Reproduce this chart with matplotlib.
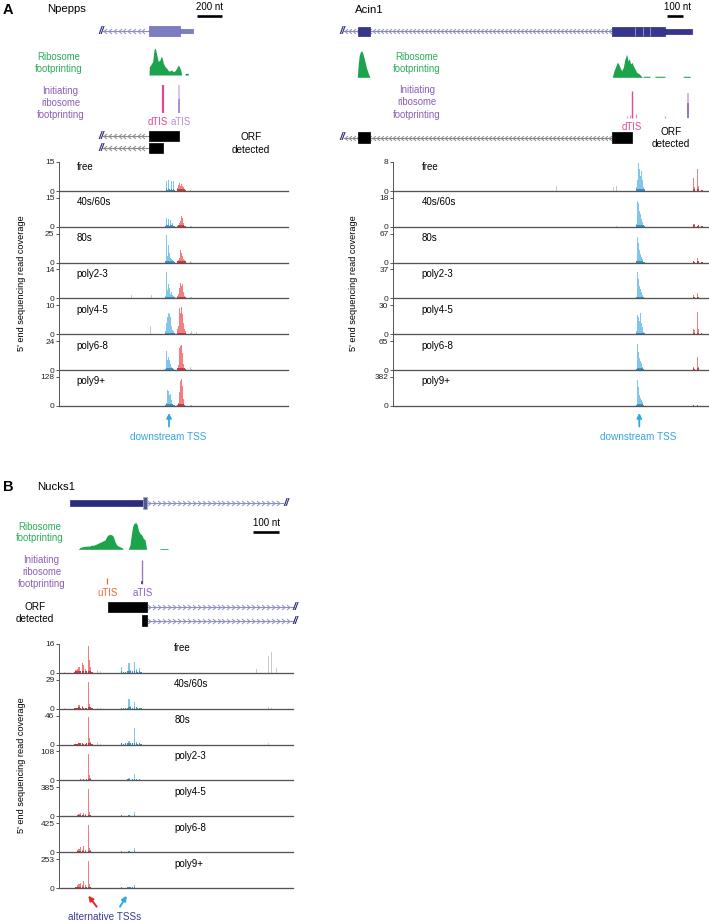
import numpy as np
import matplotlib
matplotlib.use("Agg")
import matplotlib.pyplot as plt
from matplotlib.path import Path

plt.rcParams["font.family"] = ["Liberation Sans", "DejaVu Sans"]

W, H = 709, 924
fig = plt.figure(figsize=(W / 100, H / 100), dpi=100)

track_names = ["free", "40s/60s", "80s", "poly2-3", "poly4-5", "poly6-8", "poly9+"]

# ---------------- Npepps (panel A, left) ----------------
npepps_ymax = [15, 15, 25, 14, 10, 24, 128]
npepps_blue_pos = [850, 858, 866, 874, 882, 890, 898, 906, 914, 922, 930]
npepps_blue = [
    [0, 5, 0.5, 5.5, 1, 0.5, 5, 0.5, 5, 0.5, 0],
    [0.5, 4.8, 1, 4, 0.5, 3.5, 1, 2, 0.5, 0.3, 0],
    [1, 23.5, 6, 15, 8, 4, 3, 2, 1, 0.5, 0],
    [1, 13, 4, 7, 5, 2, 3, 1.5, 1, 0.5, 0],
    [1, 4, 6, 7.2, 7, 6, 3, 1.5, 1, 0.5, 0],
    [1, 16, 8, 11, 8, 5, 3, 2, 1, 0.5, 0],
    [5, 15, 70, 65, 50, 55, 25, 10, 5, 3, 1],
]
npepps_red_pos = [944, 952, 960, 968, 976, 984, 992, 1000, 1008]
npepps_red = [
    [1.5, 3, 4, 2.5, 3.5, 2.5, 2, 1, 0.5],
    [0.5, 1, 2, 3, 5.7, 4.5, 2, 0.5, 0.3],
    [1, 2, 4, 11, 8, 6, 3, 2, 1],
    [1, 2, 5, 7.3, 6, 7, 3, 1, 0.5],
    [2, 3, 9, 7.5, 9.5, 7, 4, 2, 1],
    [2, 4, 18, 20, 21, 14, 5, 2, 1],
    [5, 15, 60, 110, 120, 90, 30, 5, 2],
]
npepps_gray_pos = [579, 731, 739, 1046, 1059, 1099]
npepps_gray = [
    [0, 0, 0, 0.5, 0, 0],
    [0, 0, 0, 0.5, 0.5, 0],
    [0, 0, 0, 1, 0.5, 0],
    [1.5, 0, 1.8, 0.8, 0.5, 0],
    [0, 3, 0, 0.5, 1, 0.7],
    [0, 0, 0, 3, 1, 0],
    [0, 0, 0, 5, 3, 0],
]
npepps_thick = [(718, 966)]
npepps_thin = [(966, 1070)]
npepps_intron = (350, 718)
npepps_break = 332
npepps_ribo_pos = [718, 720, 731, 747, 758, 768, 779, 792, 806, 816, 824, 832, 846, 859,
                   872, 886, 899, 912, 926, 939, 952, 960, 971, 979, 1005, 1006, 1032, 1033]
npepps_ribo = [0, 31, 37, 50, 94, 100, 75, 50, 56, 69, 62, 44, 31, 25,
               16, 15, 19, 12, 16, 25, 37, 31, 19, 0, 0, 6, 6, 0]
npepps_init_pos = [830, 958, 958]
npepps_init = [100, 100, 50]
npepps_orfs = [[(718, 958)], [(718, 830)]]
npepps_scale_nt = 200

# ---------------- Acin1 (panel A, right) ----------------
acin1_ymax = [8, 18, 67, 37, 30, 65, 382]
acin1_blue_pos = [1458, 1463, 1468, 1473, 1478, 1483, 1488, 1493, 1498, 1503, 1508]
acin1_blue = [
    [1, 3, 5, 7.8, 6, 4, 5.5, 3, 1.5, 1, 0.5],
    [2, 16, 16.5, 15, 10, 8, 5, 3, 2, 1, 0.5],
    [3, 60, 62, 45, 30, 20, 12, 8, 4, 2, 1],
    [2, 34, 32, 25, 16, 12, 8, 5, 3, 2, 1],
    [3, 20, 27, 18, 14, 22, 12, 8, 4, 2, 1],
    [3, 58, 52, 40, 28, 20, 15, 8, 4, 2, 1],
    [10, 340, 320, 250, 150, 110, 80, 50, 30, 15, 5],
]
acin1_red_pos = [1792, 1800, 1808, 1816, 1824, 1832, 1840, 1848, 1856, 1864]
acin1_red = [
    [4, 3.5, 1, 3, 6, 1.5, 0.5, 0.3, 0.3, 1],
    [1, 2, 1.5, 1, 0.5, 1, 0.5, 0.3, 0.5, 0.3],
    [3, 4, 2, 10, 11, 3, 1, 0.5, 0.5, 0.3],
    [3, 4, 2, 5, 7, 2, 1, 0.5, 0.3, 0.3],
    [3, 5, 4, 14, 23, 6, 2, 1, 0.5, 1],
    [4, 6, 3, 28, 30, 8, 3, 1, 0.5, 0.3],
    [5, 8, 5, 10, 8, 5, 2, 1, 0.5, 0.3],
]
acin1_gray_pos = [910, 940, 980, 1320, 1340, 1552, 1636, 1660, 1690]
acin1_gray = [
    [2, 1.5, 1.5, 1, 1.5, 0, 1.5, 1.5, 3.5],
    [0, 0, 0, 0, 0.5, 0.5, 2, 0, 0.5],
    [0, 0, 0, 0, 0, 3, 0, 0, 0],
    [0, 0, 0, 0, 0, 0, 0, 0, 0.5],
    [0, 0, 0, 0, 0, 0, 0, 0, 0],
    [0, 0, 0, 0, 0, 0, 0, 0, 1.5],
    [0, 0, 0, 0, 0, 0, 0, 0, 0],
]
acin1_thick = [(-212, -140), (1312, 1630)]
acin1_thin = [(1630, 1792)]
acin1_intron = (-296, 1312)
acin1_break = -306
acin1_ribo_pos = [-216, -210, -204, -196, -188, -180, -170, -160, -150, -140,
                  1314, 1324, 1336, 1344, 1352, 1360, 1370, 1380, 1390, 1400, 1408, 1416,
                  1424, 1432, 1440, 1450, 1460, 1476, 1490, 1494,
                  1499, 1500, 1540, 1541, 1569, 1570, 1630, 1631, 1739, 1740, 1780, 1781]
acin1_ribo = [0, 53, 85, 98, 100, 85, 60, 34, 15, 0,
              0, 25, 44, 57, 51, 38, 25, 38, 70, 88, 63, 70,
              51, 57, 44, 32, 19, 13, 3, 0,
              0, 4, 4, 0, 0, 4, 4, 0, 0, 4, 4, 0]
acin1_init_pos = [1404, 1422, 1432, 1458, 1630, 1768, 1768]
acin1_init = [8, 12, 100, 15, 8, 92, 55]
acin1_orfs = [[(-212, -140), (1312, 1432)]]
acin1_scale_nt = 100

# ---------------- Nucks1 (panel B) ----------------
nucks1_ymax = [16, 29, 46, 108, 385, 425, 253]
nucks1_red_pos = [58, 64, 70, 76, 82, 88, 94, 100, 106, 112, 116, 120, 126]
nucks1_red = [
    [0.5, 1.5, 2, 3, 1, 5.5, 4, 2, 1, 15, 7, 3, 0.5],
    [0.3, 0.5, 1, 3.5, 1, 3, 1, 0.5, 1, 27, 5, 2, 0.5],
    [0.3, 0.5, 1, 2, 3, 2, 1.5, 1, 2, 44, 10, 4, 1],
    [0.5, 1, 2, 3, 5, 3, 4, 2, 5, 100, 20, 8, 2],
    [1, 5, 20, 30, 40, 25, 50, 30, 10, 360, 60, 20, 5],
    [2, 10, 40, 50, 80, 40, 90, 40, 10, 400, 70, 30, 5],
    [2, 8, 25, 35, 45, 30, 60, 30, 8, 240, 40, 15, 5],
]
nucks1_blue_pos = [240, 248, 256, 262, 268, 274, 282, 290, 296, 302, 308, 314]
nucks1_blue = [
    [3, 0.5, 0.5, 1, 5.5, 1.5, 1, 6, 2, 0.5, 2.5, 0.5],
    [1, 0.5, 0.5, 1, 10, 3, 1, 7, 2, 0.5, 1, 0.3],
    [2, 1, 2, 3, 5, 2, 3, 27, 4, 1, 3, 0.5],
    [3, 2, 3, 4, 10, 3, 4, 25, 6, 3, 5, 1],
    [15, 2, 3, 5, 25, 5, 3, 55, 5, 2, 2, 1],
    [15, 2, 3, 5, 20, 5, 3, 70, 5, 2, 2, 1],
    [12, 3, 5, 8, 15, 12, 10, 30, 5, 2, 2, 1],
]
nucks1_gray_pos = [20, 146, 160, 759, 804, 817, 836]
nucks1_gray = [
    [0.3, 1.5, 0.8, 2, 9, 11.5, 2.4],
    [0.5, 0.8, 0.5, 0, 2, 0.5, 0],
    [0, 4, 0.5, 0, 2, 0, 0],
    [0, 2, 0.5, 0, 0, 0, 0],
    [0, 5, 0, 0, 0, 0, 0],
    [0, 5, 0, 0, 0, 0, 0],
    [0, 3, 0, 0, 0, 0, 0],
]
nucks1_thin = [(41, 322)]
nucks1_thick = [(322, 337)]
nucks1_intron = (337, 860)
nucks1_break = 871
nucks1_ribo_pos = [73, 80, 92, 105, 118, 125, 131, 144, 154, 163, 176, 182, 188, 195, 202,
                   208, 214, 221, 231, 240, 246,
                   265, 272, 276, 282, 287, 295, 300, 304, 310, 317, 323, 330, 333, 336,
                   387, 388, 418, 419]
nucks1_ribo = [0, 7, 10, 12, 12, 16, 15, 20, 25, 29, 35, 48, 54, 56, 54,
               48, 29, 16, 10, 7, 0,
               0, 16, 48, 85, 97, 100, 91, 72, 60, 54, 41, 35, 16, 0,
               0, 3, 3, 0]
nucks1_init_pos = [183, 318, 318]
nucks1_init = [25, 100, 12]
nucks1_orfs = [[(187, 337)], [(318, 337)]]
nucks1_orf_end = 900
nucks1_scale_nt = 100

# ---------------- colours ----------------
BLUE = "#3aa8e0"
BLUE_DARK = "#1b7fb8"
RED = "#ea3a40"
RED_DARK = "#b81c24"
GRAY = "#c9c9c9"
GREEN = "#1ca44d"
GREEN_TXT = "#2aac5a"
PURPLE_TXT = "#8c5db8"
MAGENTA = "#e5459b"
NAVY = "#2c2c7c"
TSS_BLUE = "#35a7df"
ORANGE = "#f0673a"
AXIS = "#555555"


def rect(x0, y0, x1, y1):
    return [x0 / W, 1 - y1 / H, (x1 - x0) / W, (y1 - y0) / H]


def chevron(direction):
    if direction < 0:
        verts = [(0.6, 1), (-0.6, 0), (0.6, -1)]
    else:
        verts = [(-0.6, 1), (0.6, 0), (-0.6, -1)]
    return Path(verts, [Path.MOVETO, Path.LINETO, Path.LINETO])


def annot_axes(x0, y0, x1, y1, px0, k):
    ax = fig.add_axes(rect(x0, y0, x1, y1))
    ax.set_xlim((x0 - px0) * k, (x1 - px0) * k)
    ax.set_ylim(y1, y0)
    ax.axis("off")
    return ax


def intron(ax, a, b, y, step, direction, color, ms=3.6):
    ax.plot([a, b], [y, y], color=color, lw=0.8, zorder=1)
    xs = np.arange(a + step * 0.5, b - step * 0.3, step)
    ax.plot(xs, np.full(len(xs), y), ls="none", marker=chevron(direction), ms=ms,
            mfc="none", mec=color, mew=0.7, zorder=1)


def boxes(ax, spans, y, h, color, ec=None):
    ax.broken_barh([(s, e - s) for s, e in spans], (y - h / 2, h),
                   facecolors=color, edgecolors=ec if ec else color, linewidth=0.5, zorder=2)


def brk(ax, x, y):
    ax.text(x, y, "//", ha="center", va="center", fontsize=7.5, fontweight="bold",
            fontstyle="italic", color=NAVY, zorder=3)


def ribo(ax, pos, vals, base, scale):
    v = np.array(vals, dtype=float)
    ax.fill_between(pos, base, base - v / 100 * scale, color=GREEN, lw=0)


def init_sites(ax, pos, vals, colors, widths, base, scale):
    for p, v, c, w in zip(pos, vals, colors, widths):
        ax.vlines(p, base, base - v / 100 * scale, colors=c, lw=w)


def draw_tracks(px0, px1, base0, step, k, ymax, bpos, bh, rpos, rh, gpos, gh, bw):
    L = (px1 - px0) * k
    bases = []
    for i in range(len(track_names)):
        base = base0 + i * step
        bases.append(base)
        ax = fig.add_axes(rect(px0, base - step, px1, base))
        ax.patch.set_visible(False)
        top = ymax[i] * step / 29.0
        ax.set_xlim(0, L)
        ax.set_ylim(0, top)
        ax.bar(gpos, gh[i], width=bw, color=GRAY, lw=0)
        ax.bar(bpos, bh[i], width=bw, color=BLUE, alpha=0.65, lw=0)
        ax.bar(rpos, rh[i], width=bw, color=RED, alpha=0.65, lw=0)
        ax.bar(bpos, np.minimum(bh[i], ymax[i] * 0.06), width=bw, color=BLUE_DARK, alpha=0.7, lw=0)
        ax.bar(rpos, np.minimum(rh[i], ymax[i] * 0.06), width=bw, color=RED_DARK, alpha=0.7, lw=0)
        ax.set_xticks([])
        ax.set_yticks([0, ymax[i]])
        ax.set_yticklabels(["0", str(ymax[i])])
        for s in ["top", "right"]:
            ax.spines[s].set_visible(False)
        ax.spines["bottom"].set_color(AXIS)
        ax.spines["bottom"].set_linewidth(0.95)
        ax.spines["left"].set_color(AXIS)
        ax.spines["left"].set_linewidth(0.7)
        if i == 0:
            ax.spines["left"].set_bounds(0, ymax[i])
        ax.tick_params(axis="y", length=2.5, width=0.7, pad=1, labelsize=6,
                       colors=AXIS, labelcolor="#222222")
    return bases


# ================= Panel A left: Npepps =================
kA = 8.0
pxA = 59.3
ax = annot_axes(0, 0, 340, 160, pxA, kA)
intron(ax, npepps_intron[0], npepps_intron[1], 31, 38, -1, "#8e8ec6")
brk(ax, npepps_break, 31)
boxes(ax, npepps_thick, 31, 10, "#7d7dc2", "#6a6ab4")
boxes(ax, npepps_thin, 31, 4.5, "#7d7dc2", "#6a6ab4")
ax.plot([1102, 1102 + npepps_scale_nt], [16.3, 16.3], color="black", lw=1.9, solid_capstyle="butt")
ribo(ax, npepps_ribo_pos, npepps_ribo, 75, 27)
init_sites(ax, npepps_init_pos, npepps_init, [MAGENTA, "#cfb3e2", "#a57ccb"], [1.6, 1.1, 1.1], 113, 28)
for orf, y in zip(npepps_orfs, [136, 148]):
    intron(ax, npepps_intron[0], npepps_intron[1], y, 38, -1, "#8a8a8a")
    brk(ax, npepps_break, y)
    boxes(ax, orf, y, 10.5, "black")

basesA = draw_tracks(59.3, 288.3, 191, 35.83, kA, npepps_ymax, npepps_blue_pos, npepps_blue,
                     npepps_red_pos, npepps_red, npepps_gray_pos, npepps_gray, 7.5)

# ================= Panel A right: Acin1 =================
kR = 6.0
pxR = 393.3
ax = annot_axes(340, 0, 709, 160, pxR, kR)
intron(ax, acin1_intron[0], acin1_intron[1], 31.3, 24, -1, "#8a8ac2", ms=3.4)
brk(ax, acin1_break, 31.3)
boxes(ax, acin1_thick, 31.3, 9.5, "#36368c", "#2a2a7a")
boxes(ax, acin1_thin, 31.3, 4.8, "#36368c", "#2a2a7a")
ax.vlines([1450, 1500, 1542], 31.3 - 4.5, 31.3 + 4.5, colors="white", lw=0.5, alpha=0.6, zorder=3)
ax.plot([1640, 1640 + acin1_scale_nt], [15.7, 15.7], color="black", lw=1.9, solid_capstyle="butt")
ribo(ax, acin1_ribo_pos, acin1_ribo, 77.3, 26.3)
init_sites(ax, acin1_init_pos, acin1_init,
           ["#ee8cc0", "#ee8cc0", MAGENTA, "#ee8cc0", "#aaaaaa", "#c9b0dd", "#8e66b8"],
           [0.8, 0.8, 1.0, 0.8, 0.8, 1.2, 1.2], 118, 27)
for orf, y in zip(acin1_orfs, [137.5]):
    intron(ax, acin1_intron[0], acin1_intron[1], y, 24, -1, "#8a8a8a", ms=3.4)
    brk(ax, acin1_break, y)
    boxes(ax, orf, y, 11.5, "black")

basesR = draw_tracks(393.3, 708.3, 191, 35.83, kR, acin1_ymax, acin1_blue_pos, acin1_blue,
                     acin1_red_pos, acin1_red, acin1_gray_pos, acin1_gray, 5.5)

# ================= Panel B: Nucks1 =================
kB = 3.846
pxB = 59.3
ax = annot_axes(0, 480, 340, 635, pxB, kB)
intron(ax, nucks1_intron[0], nucks1_intron[1], 502.7, 19, 1, "#8e8ec6")
brk(ax, nucks1_break, 502.7)
boxes(ax, nucks1_thin, 502.7, 6, "#2c2c7c")
boxes(ax, nucks1_thick, 502.7, 12, "#4d5c8c", "#9aa6c8")
ax.plot([746, 746 + nucks1_scale_nt], [531.7, 531.7], color="black", lw=1.9, solid_capstyle="butt")
ribo(ax, nucks1_ribo_pos, nucks1_ribo, 549.3, 26.7)
init_sites(ax, nucks1_init_pos, nucks1_init, [ORANGE, "#9a7cc4", "#5e3f96"], [0.9, 1.0, 1.3], 584, 24)
for orf, y in zip(nucks1_orfs, [607, 620.5]):
    intron(ax, orf[-1][1], nucks1_orf_end, y, 19, 1, "#8e8ec6")
    brk(ax, nucks1_orf_end + 9, y)
    boxes(ax, orf, y, 10.5, "black")

basesB = draw_tracks(59.3, 293.3, 672.7, 35.93, kB, nucks1_ymax, nucks1_blue_pos, nucks1_blue,
                     nucks1_red_pos, nucks1_red, nucks1_gray_pos, nucks1_gray, 4.5)

# ================= text / arrows overlay =================
ov = fig.add_axes([0, 0, 1, 1])
ov.set_xlim(0, W)
ov.set_ylim(H, 0)
ov.axis("off")


def t(x, y, s, color="black", size=7, ha="center", **kw):
    ov.text(x, y, s, color=color, fontsize=size, ha=ha, va="center", **kw)


def lines(x, ys, strs, color, size=6.9):
    for y, s in zip(ys, strs):
        t(x, y, s, color=color, size=size)


# panel A left
t(3, 9.5, "A", size=10.5, ha="left", fontweight="bold")
t(47, 9.5, "Npepps", size=8.2, ha="left")
t(209.5, 7, "200 nt")
lines(58.3, [57, 69], ["Ribosome", "footprinting"], GREEN_TXT)
lines(60.5, [90.7, 102.7, 114.7], ["Initiating", "ribosome", "footprinting"], PURPLE_TXT)
t(158.3, 121.7, "dTIS", color=MAGENTA, size=6.9)
t(181, 121.7, "aTIS", color="#b48fd3", size=6.9)
lines(251, [137.3, 150], ["ORF", "detected"], "black", size=7.2)
for name, b in zip(track_names, basesA):
    t(76.7, b - 24.5, name, ha="left", size=7)
t(22, 283, "5' end sequencing read coverage", size=6.6, rotation=90)
ov.annotate("", xy=(169, 413), xytext=(169, 426.5),
            arrowprops=dict(arrowstyle="-|>", color=TSS_BLUE, lw=1.3, mutation_scale=7, shrinkA=0, shrinkB=0))
t(168.3, 437.3, "downstream TSS", color=TSS_BLUE, size=7.2)

# panel A right
t(355, 10, "Acin1", size=8.2, ha="left")
t(677, 6.5, "100 nt")
lines(416.7, [57, 69], ["Ribosome", "footprinting"], GREEN_TXT)
lines(416.7, [90, 102.3, 114.7], ["Initiating", "ribosome", "footprinting"], PURPLE_TXT)
t(631.7, 126.7, "dTIS", color=MAGENTA, size=6.9)
lines(671, [132, 144], ["ORF", "detected"], "black", size=7.2)
for name, b in zip(track_names, basesR):
    t(421.7, b - 24.5, name, ha="left", size=7)
t(353, 283, "5' end sequencing read coverage", size=6.6, rotation=90)
ov.annotate("", xy=(639.3, 413), xytext=(639.3, 426.5),
            arrowprops=dict(arrowstyle="-|>", color=TSS_BLUE, lw=1.3, mutation_scale=7, shrinkA=0, shrinkB=0))
t(638, 437.3, "downstream TSS", color=TSS_BLUE, size=7.2)

# panel B
t(3, 487, "B", size=10.5, ha="left", fontweight="bold")
t(37, 487, "Nucks1", size=8.2, ha="left")
t(266.7, 522.7, "100 nt")
lines(39.3, [526.7, 538.3], ["Ribosome", "footprinting"], GREEN_TXT)
lines(41.5, [560, 571.7, 584], ["Initiating", "ribosome", "footprinting"], PURPLE_TXT)
t(107.2, 593, "uTIS", color=ORANGE, size=6.9)
t(142.5, 593, "aTIS", color="#8a5fc0", size=6.9)
lines(35, [607.3, 618.5], ["ORF", "detected"], "black", size=7.2)
for name, b in zip(track_names, basesB):
    t(174.3, b - 24.5, name, ha="left", size=7)
t(22, 765, "5' end sequencing read coverage", size=6.6, rotation=90)
ov.annotate("", xy=(88.3, 895.7), xytext=(96.7, 906.7),
            arrowprops=dict(arrowstyle="-|>", color="#e8262d", lw=1.4, mutation_scale=7, shrinkA=0, shrinkB=0))
ov.annotate("", xy=(126.7, 895.7), xytext=(120, 906.7),
            arrowprops=dict(arrowstyle="-|>", color=TSS_BLUE, lw=1.4, mutation_scale=7, shrinkA=0, shrinkB=0))
t(105, 916.7, "alternative TSSs", color="#3b3b9e", size=7.2)

fig.savefig("out.png", dpi=100)
